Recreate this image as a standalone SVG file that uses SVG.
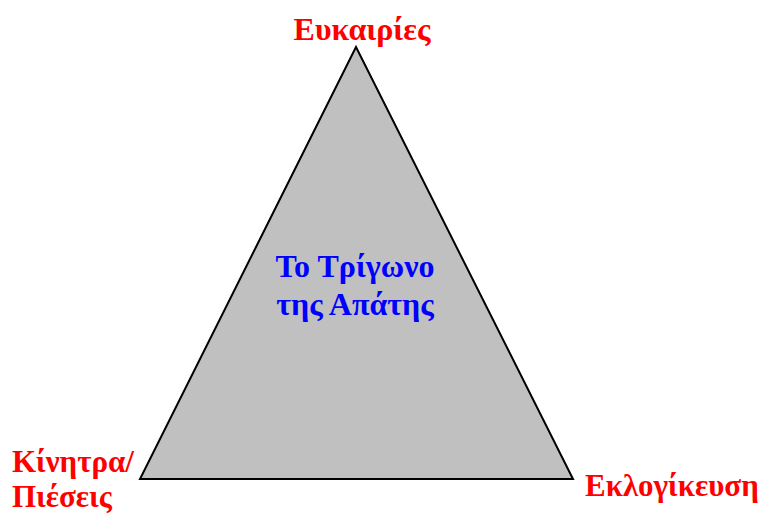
<svg xmlns="http://www.w3.org/2000/svg" width="763" height="513" viewBox="0 0 763 513">
<style>
.lbl{font-family:"Liberation Serif","Times New Roman",serif;font-weight:bold;font-size:31px;fill:#ff0000}
.ctr{font-family:"Liberation Serif","Times New Roman",serif;font-weight:bold;font-size:32px;fill:#0000ff}
.tri{fill:#c0c0c0;stroke:#000000;stroke-width:2;stroke-linejoin:miter}
</style>
<rect width="763" height="513" fill="#ffffff"/>
<g id="triangle">
<polygon class="tri" points="356,47 140,479 573,479"/>
<text class="ctr" x="355" y="277" text-anchor="middle">Το Τρίγωνο</text>
<text class="ctr" x="355" y="315" text-anchor="middle">της Απάτης</text>
</g>
<g id="top-label">
<text class="lbl" x="362" y="40" text-anchor="middle" style="font-size:32px">Ευκαιρίες</text>
</g>
<g id="left-label">
<text class="lbl" x="12" y="472">Κίνητρα/</text>
<text class="lbl" x="12" y="507">Πιέσεις</text>
</g>
<g id="right-label">
<text class="lbl" x="585" y="496">Εκλογίκευση</text>
</g>
<g id="connectors"></g>
</svg>
